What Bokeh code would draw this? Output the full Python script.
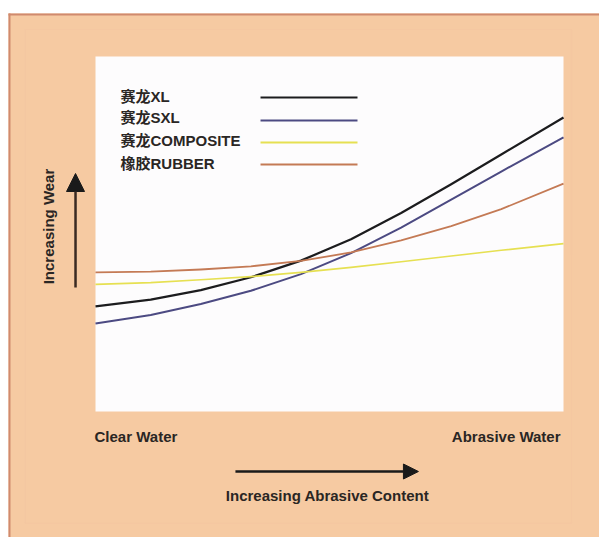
from bokeh.plotting import figure
from bokeh.models import Label, Arrow, NormalHead, BoxAnnotation, Range1d
from bokeh.embed import file_html
from bokeh.resources import INLINE

# ---- data (relative wear index vs abrasive content, 0..100) ----
content = [0, 11.8, 22.5, 33.2, 43.9, 54.6, 65.3, 76.0, 86.7, 100]
wear_xl = [29.6, 31.5, 34.2, 37.8, 42.5, 48.5, 55.9, 64.0, 72.4, 82.8]
wear_sxl = [24.8, 27.2, 30.3, 34.0, 38.7, 44.6, 51.8, 59.7, 67.6, 77.2]
wear_composite = [35.8, 36.3, 37.1, 38.0, 39.2, 40.6, 42.2, 43.8, 45.4, 47.3]
wear_rubber = [39.2, 39.4, 40.0, 40.9, 42.4, 44.8, 48.2, 52.2, 57.0, 64.2]

series_names = ["赛龙XL", "赛龙SXL", "赛龙COMPOSITE", "橡胶RUBBER"]
series_values = [wear_xl, wear_sxl, wear_composite, wear_rubber]
series_colors = ["#1c1c1e", "#4c4a82", "#e6e052", "#c47a55"]
series_widths = [2.2, 2.0, 1.6, 1.8]

x_labels = ["Clear Water", "Abrasive Water"]
x_title = "Increasing Abrasive Content"
y_title = "Increasing Wear"

PEACH = "#f6caa2"
FONT = "Liberation Sans, Noto Sans CJK SC"
TXT = "#2a2624"

# whole canvas is the frame; plot area (0..100 x 0..100) is drawn inside it
p = figure(width=599, height=537, output_backend="svg", toolbar_location=None,
           x_range=Range1d(-20.30, 107.69), y_range=Range1d(-35.49, 115.77),
           min_border=0, min_border_left=0, min_border_right=0,
           min_border_top=0, min_border_bottom=0)
p.axis.visible = False
p.grid.visible = False
p.background_fill_color = "white"
p.border_fill_color = "white"
p.outline_line_color = None

# peach panel with border
p.add_layout(BoxAnnotation(left=-18.59, right=107.69, top=112.11, bottom=-35.49,
                           fill_color=PEACH, fill_alpha=1, line_alpha=0, level="underlay"))
p.add_layout(BoxAnnotation(left=-15.0, right=101.7, top=107.6, bottom=-31.5,
                           fill_alpha=0, line_color="#f1c09f", line_width=1.2, level="underlay"))
p.segment(x0=[-18.59], y0=[111.83], x1=[107.69], y1=[111.83], line_color="#d08a6e", line_width=2)
p.segment(x0=[-18.38], y0=[112.11], x1=[-18.38], y1=[-35.49], line_color="#d08a6e", line_width=2)

# white plot area
p.add_layout(BoxAnnotation(left=0, right=100, top=100, bottom=0,
                           fill_color="#fdfcfd", fill_alpha=1, line_alpha=0, level="underlay"))

for name, vals, col, lw in zip(series_names, series_values, series_colors, series_widths):
    p.line(content, vals, line_color=col, line_width=lw, line_join="round")

# custom legend: text on the left, line sample to the right
leg_text_y = [88.73, 82.68, 76.34, 69.86]
leg_line_y = [88.45, 81.97, 75.77, 69.58]
for name, col, ty, ly in zip(series_names, series_colors, leg_text_y, leg_line_y):
    p.add_layout(Label(x=5.34, y=ty, text=name, text_font=FONT, text_font_size="15px",
                       text_font_style="bold", text_color=TXT, text_baseline="middle"))
    p.segment(x0=[35.26], y0=[ly], x1=[55.98], y1=[ly], line_color=col, line_width=2)

# x end labels
p.add_layout(Label(x=-0.21, y=-7.04, text=x_labels[0], text_font=FONT, text_font_size="15px",
                   text_font_style="bold", text_color=TXT, text_baseline="middle"))
p.add_layout(Label(x=99.36, y=-7.04, text=x_labels[1], text_font=FONT, text_font_size="15px",
                   text_font_style="bold", text_color=TXT, text_baseline="middle", text_align="right"))

# axis arrows and titles
p.add_layout(Arrow(x_start=29.9, y_start=-16.9, x_end=69.0, y_end=-16.9, line_color="#1a1a1a",
                   line_width=2.5, end=NormalHead(size=15, fill_color="#1a1a1a", line_color="#1a1a1a")))
p.add_layout(Label(x=49.57, y=-23.66, text=x_title, text_font=FONT, text_font_size="15px",
                   text_font_style="bold", text_color=TXT, text_baseline="middle", text_align="center"))
p.add_layout(Arrow(x_start=-4.27, y_start=34.93, x_end=-4.27, y_end=67.04, line_color="#3a2a22",
                   line_width=2.5, end=NormalHead(size=18, fill_color="#1a1a1a", line_color="#1a1a1a")))
p.add_layout(Label(x=-10.04, y=52.11, text=y_title, text_font=FONT, text_font_size="15px",
                   text_font_style="bold", text_color=TXT, text_baseline="middle", text_align="center",
                   angle=1.5708))

open("out.html", "w").write(file_html(p, INLINE))
